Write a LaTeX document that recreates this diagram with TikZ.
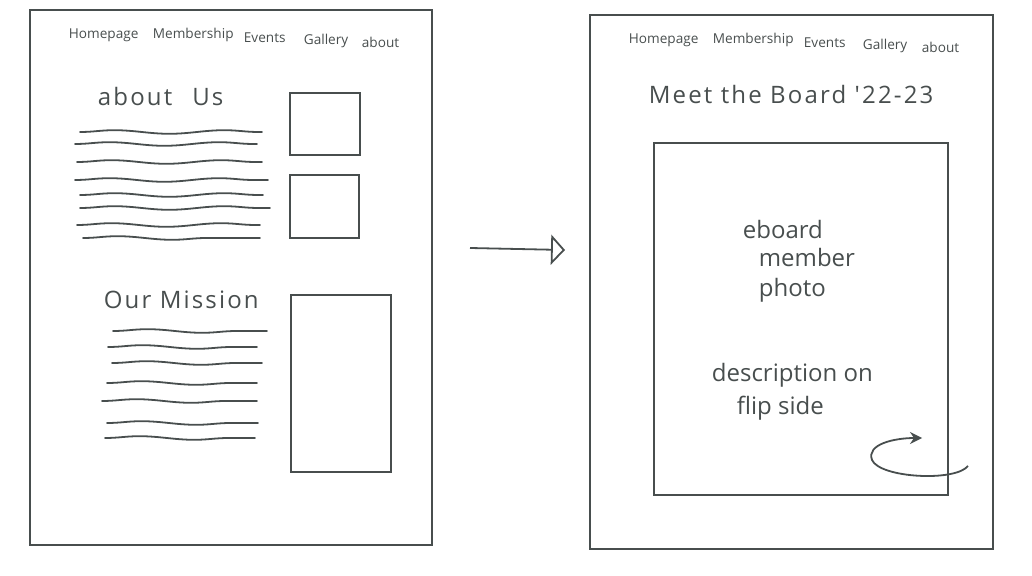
\documentclass[tikz,border=0pt]{standalone}
\usepackage{fontspec}
\setmainfont{Open Sans}
\newfontfamily\widehand[LetterSpace=9]{Open Sans}
\usetikzlibrary{arrows.meta,decorations.pathmorphing}
\definecolor{pencil}{RGB}{72,78,78}

\begin{document}
\begin{tikzpicture}[x=0.5pt,y=-0.5pt, line width=0.9pt, draw=pencil,
  every node/.style={text=pencil, inner sep=0pt},
  navtext/.style={font=\fontsize{6.8}{8}\selectfont, anchor=west},
  headtext/.style={font=\widehand\fontsize{12}{14}\selectfont, anchor=west},
  handtext/.style={font=\fontsize{12}{14}\selectfont, anchor=west},
  squiggle/.style={pencil, line cap=round, decorate,
    decoration={snake, amplitude=0.9pt, segment length=55pt}},
  flow/.style={pencil, -{Triangle[open, length=7pt, width=15pt]}}]
\useasboundingbox (0,0) rectangle (1032,576);

% left page: about us
\node[draw, minimum width=201pt, minimum height=267.5pt] (aboutpage) at (231,277.5) {};
\node[navtext] (navhome) at (68,35) {Homepage};
\node[navtext] (navmember) at (152,35) {Membership};
\node[navtext] (navevents) at (243,38) {Events};
\node[navtext] (navgallery) at (303,41) {Gallery};
\node[navtext] (navabout) at (361,42) {about};
\node[headtext] (abouthead) at (97,97) {about\hspace{10pt}Us};
\node[draw, minimum width=35pt, minimum height=31pt] (photoa) at (325,124) {};
\node[draw, minimum width=34.5pt, minimum height=31.5pt] (photob) at (324.5,206.5) {};
\draw[squiggle] (80,132) -- (262,132);
\draw[squiggle] (75,144) -- (257,144);
\draw[squiggle] (77,162) -- (262,162);
\draw[squiggle] (75,180) -- (268,180);
\draw[squiggle] (80,195) -- (263,195);
\draw[squiggle] (80,208) -- (270,208);
\draw[squiggle] (77,225) -- (260,225);
\draw[squiggle] (83,238) -- (260,238);
\node[headtext] (missionhead) at (103,300) {Our Mission};
\node[draw, minimum width=50pt, minimum height=88.5pt] (missionbox) at (341,383.5) {};
\draw[squiggle] (113,331) -- (267,331);
\draw[squiggle] (108,347) -- (257,347);
\draw[squiggle] (112,363) -- (262,363);
\draw[squiggle] (107,383) -- (257,383);
\draw[squiggle] (102,401) -- (257,401);
\draw[squiggle] (107,423) -- (258,423);
\draw[squiggle] (105,438) -- (255,438);

% arrow between the pages
\coordinate (flowstart) at (470,248);
\coordinate (flowend) at (565,250);
\draw[flow] (flowstart) -- (flowend);

% right page: meet the board
\node[draw, minimum width=201.5pt, minimum height=267pt] (boardpage) at (791.5,282) {};
\node[navtext] (bnavhome) at (628,40) {Homepage};
\node[navtext] (bnavmember) at (712,40) {Membership};
\node[navtext] (bnavevents) at (803,43) {Events};
\node[navtext] (bnavgallery) at (862,46) {Gallery};
\node[navtext] (bnavabout) at (921,47) {about};
\node[headtext] (boardhead) at (648,95) {Meet the Board '22-23};
\node[draw, minimum width=147pt, minimum height=176pt] (membercard) at (801,319) {};
\node[handtext] (eboard) at (742,230) {eboard};
\node[handtext] (member) at (758,258) {member};
\node[handtext] (photo) at (758,290) {photo};
\node[handtext] (descr) at (711,375) {description on};
\node[handtext] (flipside) at (736,408) {flip side};
\coordinate (flipstart) at (968,466);
\coordinate (flipend) at (922,438);
\draw[pencil, -{Stealth[length=6pt, width=6pt]}] (flipstart) .. controls (955,482) and (880,478) .. (872,460)
  .. controls (866,444) and (895,438) .. (flipend);
\end{tikzpicture}
\end{document}
